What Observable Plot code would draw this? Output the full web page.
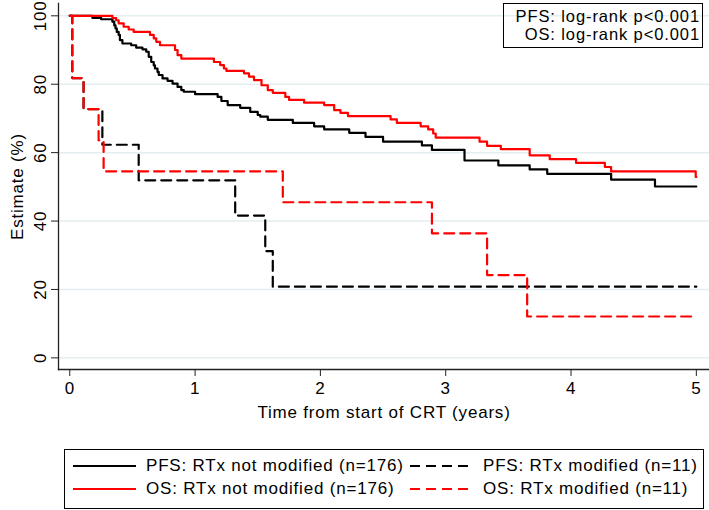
<!DOCTYPE html>
<html>
<head>
<meta charset="utf-8">
<script src="https://cdn.jsdelivr.net/npm/d3@7"></script>
<script src="https://cdn.jsdelivr.net/npm/@observablehq/plot@0.6"></script>
<style>
  body { margin: 0; background: #fff; }
  #wrap { position: relative; width: 709px; height: 510px; font-family: "Liberation Sans", Arial, sans-serif; background: #fff; }
  #pbox { position: absolute; left: 503px; top: 3px; width: 200px; height: 45px; border: 1px solid #000; box-sizing: border-box;
          font-size: 16.5px; letter-spacing: 0.9px; text-align: right; padding: 3px 2px 0 0; line-height: 18px; color: #000; }
  #legend { position: absolute; left: 64px; top: 449px; width: 640px; height: 60px; border: 1px solid #000; box-sizing: border-box;
            font-size: 17px; letter-spacing: 0.8px; color: #000; }
  .item { position: absolute; display: flex; align-items: center; height: 22px; white-space: nowrap; }
  .item svg { margin-right: 10px; }
</style>
</head>
<body>
<div id="wrap">
  <div id="chart"></div>
  <div id="pbox"></div>
  <div id="legend"></div>
</div>
<script>
// ---- data (time in years, estimate in %) ----
const pfsNotModT = [0,0.18,0.25,0.34,0.355,0.365,0.375,0.39,0.40,0.42,0.49,0.53,0.58,0.61,0.63,0.65,0.67,0.68,0.70,0.71,0.74,0.78,0.82,0.86,0.89,0.91,1.0,1.18,1.21,1.26,1.36,1.44,1.5,1.52,1.58,1.78,1.95,2.03,2.23,2.36,2.50,2.81,2.89,3.15,3.42,3.67,3.81,4.32,4.67,5.0];
const pfsNotModV = [100,99.4,99.0,98.3,97.2,96.3,95.3,94.4,92.9,91.9,91.4,90.7,90.2,89.5,88.0,86.5,85.5,84.6,83.6,82.7,81.7,81.0,80.2,79.2,78.3,77.8,77.1,76.3,75.1,73.9,73.1,71.9,71.0,70.5,69.6,68.7,67.7,66.8,65.8,64.6,63.2,62.1,60.8,57.7,56.3,55.1,53.8,52.1,50.1,50.1];

const osNotModT = [0,0.34,0.37,0.39,0.43,0.47,0.51,0.64,0.67,0.69,0.72,0.84,0.86,0.89,1.15,1.2,1.23,1.25,1.39,1.43,1.47,1.53,1.58,1.62,1.72,1.75,1.87,2.03,2.11,2.16,2.22,2.56,2.61,2.80,2.86,2.90,2.92,3.27,3.33,3.44,3.67,3.83,4.04,4.27,4.32,4.995,5.0];
const osNotModV = [100,99.3,98.7,97.8,96.8,96.0,95.3,94.4,93.4,92.4,91.4,90.0,88.5,87.5,86.5,85.6,84.6,83.9,83.2,82.2,81.2,79.7,78.3,77.5,76.3,75.4,74.6,73.9,72.4,71.6,70.7,69.7,68.7,67.7,66.8,65.6,64.4,63.2,62.0,61.0,59.2,58.1,57.0,55.8,54.5,52.9,52.9];

const pfsModT = [0,0.02,0.11,0.26,0.55,1.32,1.56,1.62,5.0];
const pfsModV = [100,81.8,72.7,62.3,51.9,41.6,31.2,20.8,20.8];

const osModT = [0,0.02,0.11,0.23,0.27,1.70,2.89,3.33,3.65,4.99];
const osModV = [100,81.8,72.7,63.6,54.5,45.5,36.4,24.2,12.1,12.1];

const xTicks = [0,1,2,3,4,5];
const yTicks = [0,20,40,60,80,100];

const seriesNames = ["PFS: RTx not modified (n=176)","PFS: RTx modified (n=11)","OS: RTx not modified (n=176)","OS: RTx modified (n=11)"];
const seriesColors = ["#000000","#000000","#ff0000","#ff0000"];
const seriesDash = [null,"10,6",null,"10,6"];
const pLines = ["PFS: log-rank p<0.001","OS: log-rank p<0.001"];

const toRows = (T, V) => T.map((t, i) => ({t, v: V[i]}));
const series = [toRows(pfsNotModT,pfsNotModV), toRows(pfsModT,pfsModV), toRows(osNotModT,osNotModV), toRows(osModT,osModV)];
const drawOrder = [0,1,2,3];

const chart = Plot.plot({
  width: 709, height: 440,
  marginLeft: 58, marginRight: 0, marginTop: 3, marginBottom: 71,
  style: {fontFamily: "'Liberation Sans', Arial, sans-serif", fontSize: "17px", letterSpacing: "0.8px", background: "#fff", color: "#000"},
  x: {domain: [-0.09, 5.105]},
  y: {domain: [-3.4, 103.6]},
  marks: [
    Plot.gridY(yTicks, {stroke: "#e3eef0", strokeOpacity: 1, strokeWidth: 1.5}),
    Plot.frame({anchor: "left", stroke: "#222", strokeWidth: 1.3}),
    Plot.frame({anchor: "bottom", stroke: "#222", strokeWidth: 1.3}),
    Plot.axisY(yTicks, {tickSize: 7, tickPadding: 6, tickRotate: -90, tickFormat: d => String(d), label: "Estimate (%)", labelAnchor: "center", labelArrow: "none", labelOffset: 48, stroke: "#222"}),
    Plot.axisX(xTicks, {tickSize: 7, tickPadding: 5, tickFormat: d => String(d), label: "Time from start of CRT (years)", labelAnchor: "center", labelArrow: "none", labelOffset: 48, stroke: "#222"}),
    ...drawOrder.map(i => Plot.line(series[i], {x: "t", y: "v", curve: "step-after", stroke: seriesColors[i], strokeWidth: 2.2, strokeDasharray: seriesDash[i]}))
  ]
});
document.getElementById("chart").appendChild(chart);

document.getElementById("pbox").innerHTML = pLines.map(s => `<div>${s.replace("<","&lt;")}</div>`).join("");

const legend = document.getElementById("legend");
const pos = [[8,5],[345,5],[8,28],[345,28]];
seriesNames.forEach((name, i) => {
  const d = document.createElement("div");
  d.className = "item";
  d.style.left = pos[i][0] + "px";
  d.style.top = pos[i][1] + "px";
  d.innerHTML = `<svg width="63" height="6"><line x1="0" y1="3" x2="63" y2="3" stroke="${seriesColors[i]}" stroke-width="2.2" ${seriesDash[i] ? `stroke-dasharray="${seriesDash[i]}"` : ""}/></svg><span>${name}</span>`;
  legend.appendChild(d);
});
</script>
</body>
</html>
